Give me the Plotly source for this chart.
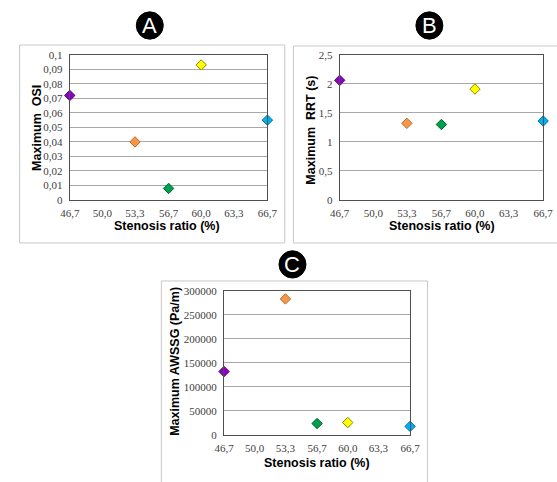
import plotly.graph_objects as go

W, H = 557, 482

stenosis = [46.7, 53.3, 56.7, 60.0, 66.7]
colors = ["#8E00C8", "#F79646", "#00A050", "#FFFF00", "#00B0F0"]
edge_colors = ["#5A0080", "#B86A2A", "#006030", "#8A8A00", "#0070A0"]

osi = [0.072, 0.040, 0.008, 0.093, 0.055]
rrt = [2.06, 1.32, 1.30, 1.91, 1.36]
awssg = [132000, 283000, 24000, 26000, 18000]

x_tickvals = [46.7, 50.0, 53.3, 56.7, 60.0, 63.3, 66.7]
x_ticktext = ["46,7", "50,0", "53,3", "56,7", "60,0", "63,3", "66,7"]

osi_ticks = [0, 0.01, 0.02, 0.03, 0.04, 0.05, 0.06, 0.07, 0.08, 0.09, 0.1]
osi_text = ["0", "0,01", "0,02", "0,03", "0,04", "0,05", "0,06", "0,07", "0,08", "0,09", "0,1"]
rrt_ticks = [0, 0.5, 1, 1.5, 2, 2.5]
rrt_text = ["0", "0,5", "1", "1,5", "2", "2,5"]
awssg_ticks = [0, 50000, 100000, 150000, 200000, 250000, 300000]
awssg_text = ["0", "50000", "100000", "150000", "200000", "250000", "300000"]

panels = [
    dict(letter="A", y=osi, yr=[0, 0.1], tv=osi_ticks, tt=osi_text,
         ytitle="Maximum  OSI", px=(62, 267), py=(50, 199),
         frame=(10, 40, 285, 243), circ=(145, 20), xt=(163, 226), yt=(28, 125)),
    dict(letter="B", y=rrt, yr=[0, 2.5], tv=rrt_ticks, tt=rrt_text,
         ytitle="Maximum  RRT (s)", px=(342, 553), py=(50, 199),
         frame=(294, 41, 600, 243), circ=(435, 20), xt=(448, 226), yt=(312, 127)),
    dict(letter="C", y=awssg, yr=[0, 300000], tv=awssg_ticks, tt=awssg_text,
         ytitle="Maximum AWSSG (Pa/m)", px=(222, 415), py=(292, 440),
         frame=(157, 282, 433, 520), circ=(293, 265), xt=(318, 469), yt=(171, 364)),
]

fig = go.Figure()
shapes = []
annotations = []
layout = {}

tick_font = dict(family="'Liberation Serif', 'Times New Roman', serif", size=11, color="#404040")
title_font = dict(family="'Liberation Sans', Arial, sans-serif", size=12.5, color="black")

for i, p in enumerate(panels):
    n = "" if i == 0 else str(i + 1)
    fig.add_trace(go.Scatter(
        x=stenosis, y=p["y"], mode="markers", xaxis="x" + n, yaxis="y" + n,
        marker=dict(symbol="diamond", size=8, color=colors,
                    line=dict(color=edge_colors, width=1)),
        showlegend=False, cliponaxis=False,
    ))
    layout["xaxis" + n] = dict(
        domain=[p["px"][0] / W, p["px"][1] / W], anchor="y" + n,
        range=[46.7, 66.7], tickvals=x_tickvals, ticktext=x_ticktext,
        showgrid=False, zeroline=False, showline=True, linecolor="#505050",
        mirror=True, linewidth=1, ticks="outside", ticklen=3, tickcolor="rgba(0,0,0,0)",
        tickfont=tick_font,
    )
    layout["yaxis" + n] = dict(
        domain=[1 - p["py"][1] / H, 1 - p["py"][0] / H], anchor="x" + n,
        range=p["yr"], tickvals=p["tv"], ticktext=p["tt"],
        showgrid=True, gridcolor="#A8A8A8", gridwidth=1, zeroline=False,
        showline=True, linecolor="#505050", mirror=True, linewidth=1,
        ticks="outside", ticklen=4, tickcolor="rgba(0,0,0,0)", tickfont=tick_font,
    )
    fx0, fy0, fx1, fy1 = p["frame"]
    shapes.append(dict(type="rect", xref="paper", yref="paper",
                       x0=fx0 / W, x1=fx1 / W, y0=1 - fy1 / H, y1=1 - fy0 / H,
                       line=dict(color="#C8C8C8", width=1), layer="below"))
    cx, cy = p["circ"]
    r = 14
    shapes.append(dict(type="circle", xref="paper", yref="paper",
                       x0=(cx - r) / W, x1=(cx + r) / W,
                       y0=1 - (cy + r) / H, y1=1 - (cy - r) / H,
                       fillcolor="black", line=dict(color="black", width=1)))
    annotations.append(dict(text=p["letter"], xref="paper", yref="paper",
                            x=cx / W, y=1 - cy / H, showarrow=False,
                            xanchor="center", yanchor="middle",
                            font=dict(family="'Liberation Sans', Arial, sans-serif",
                                      size=22, color="white")))
    annotations.append(dict(text="<b>Stenosis ratio (%)</b>", xref="paper", yref="paper",
                            x=p["xt"][0] / W, y=1 - p["xt"][1] / H, showarrow=False,
                            xanchor="center", yanchor="middle", font=title_font))
    annotations.append(dict(text="<b>" + p["ytitle"] + "</b>", xref="paper", yref="paper",
                            x=p["yt"][0] / W, y=1 - p["yt"][1] / H, showarrow=False,
                            xanchor="center", yanchor="middle", textangle=-90,
                            font=title_font))

fig.update_layout(
    width=W, height=H, margin=dict(l=0, r=0, t=0, b=0),
    paper_bgcolor="white", plot_bgcolor="white",
    shapes=shapes, annotations=annotations, **layout,
)

fig.write_html("out.html")
